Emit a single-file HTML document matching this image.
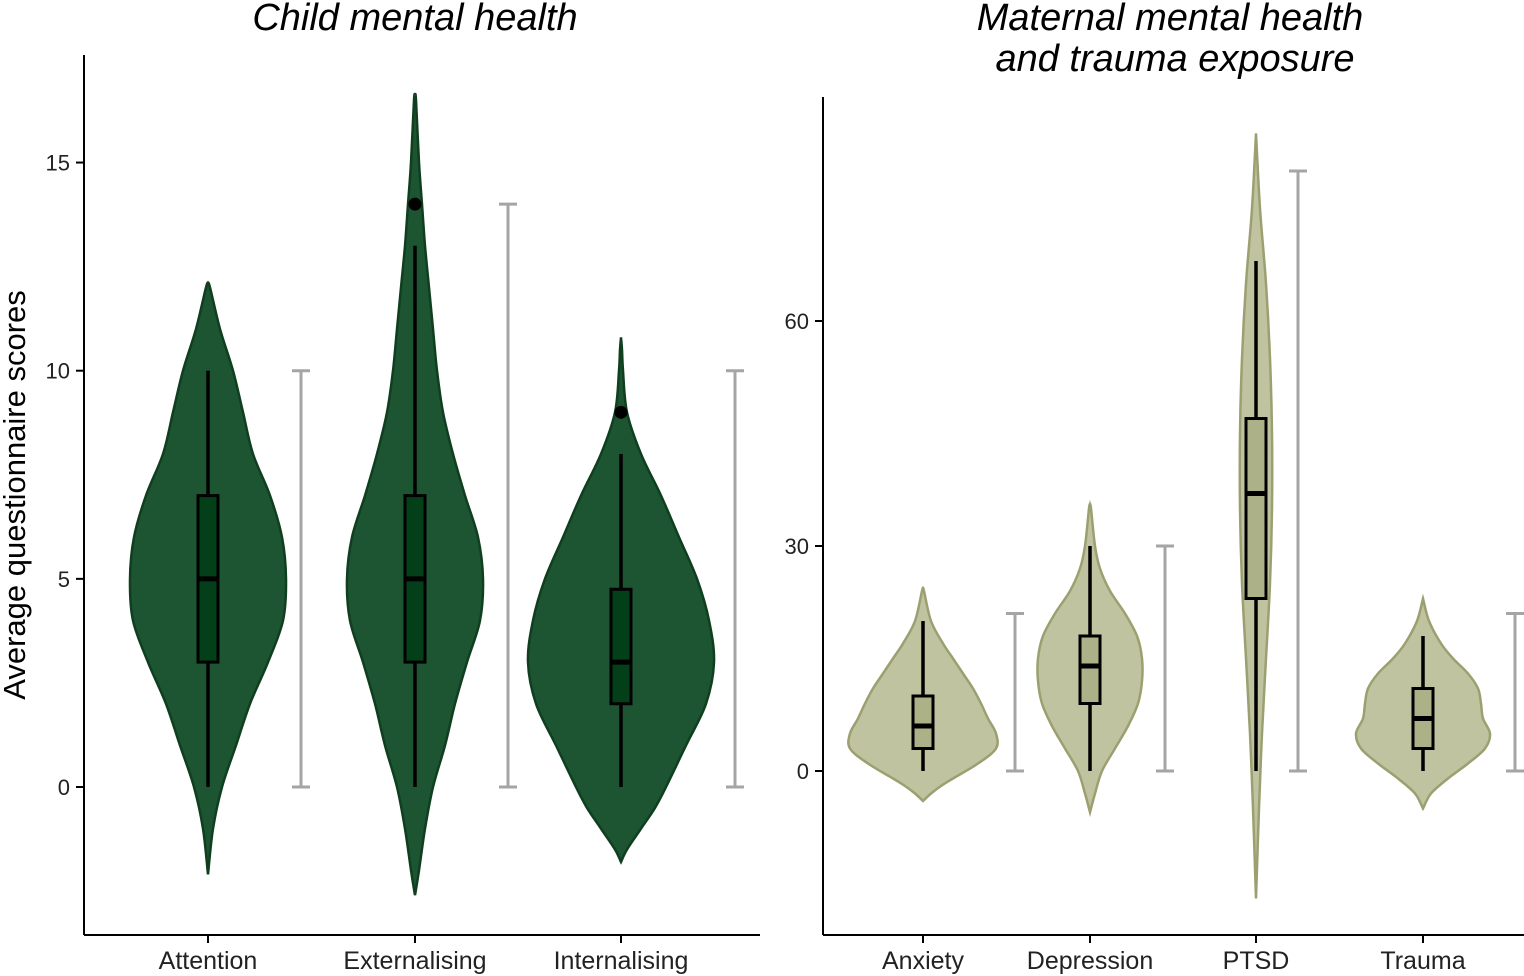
<!DOCTYPE html>
<html><head><meta charset="utf-8"><style>
body{margin:0;background:#fff}
svg{display:block;font-family:"Liberation Sans",Arial,sans-serif}
</style></head><body>
<svg id="chart" width="1524" height="976" viewBox="0 0 1524 976">
<text x="415" y="30" font-size="38" font-style="italic" text-anchor="middle">Child mental health</text>
<text x="1170" y="30" font-size="38" font-style="italic" text-anchor="middle">Maternal mental health</text>
<text x="1175" y="71" font-size="38" font-style="italic" text-anchor="middle">and trauma exposure</text>
<text transform="translate(25,495) rotate(-90)" font-size="31" text-anchor="middle">Average questionnaire scores</text>
<g id="left"></g>
<g id="right"></g>
</svg>
<script>
// Left panel data
const leftCats = ["Attention","Externalising","Internalising"];
const leftTicks = [0,5,10,15];
const leftViolins = [
 [[-2.1,0],[-1,5],[0,14],[1,28],[2,42],[3,60],[4,75],[5,78],[6,74],[7,62],[8,45],[9,35],[10,25],[11,12],[12,2],[12.1,0]],
 [[-2.6,0],[-2,4],[-1,10],[0,18],[1,30],[2,40],[3,52],[4,65],[5,68],[6,63],[7,50],[8,38],[9,28],[10,22],[11,18],[12,14],[13,10],[14,7],[15,4],[16.5,1],[16.6,0]],
 [[-1.8,0],[-1.5,6],[-1,20],[-0.5,34],[0,45],[1,65],[2,85],[3,93],[4,88],[5,76],[6,58],[7,40],[8,20],[9,6],[10,2],[10.5,1],[10.8,0]]
];
const leftBoxes = [[0,3,5,7,10],[0,3,5,7,13],[0,2,3,4.75,8]];
const leftOutliers = [[],[14],[9]];
const leftRanges = [[0,10],[0,14],[0,10]];
// Right panel data
const rightCats = ["Anxiety","Depression","PTSD","Trauma"];
const rightTicks = [0,30,60];
const rightViolins = [
 [[-4,0],[-3,8],[-2,18],[-1,30],[1,55],[3,73],[5,73],[7,65],[9,58],[11,50],[13,40],[15,30],[17,20],[20,8],[24,1],[24.3,0]],
 [[-5.5,0],[-3,5],[0,12],[3,25],[6,38],[9,48],[12,52],[15,52],[18,47],[21,35],[24,20],[27,10],[30,5],[35,1],[35.5,0]],
 [[-17,0],[-5,3],[5,6],[15,10],[25,14],[35,16],[45,16],[55,14],[65,10],[75,4],[85,0]],
 [[-5,0],[-3,8],[-1,25],[1,45],[3,62],[5,67],[7,60],[9,58],[11,55],[13,45],[15,30],[17,18],[20,6],[23,0]]
];
const rightBoxes = [[0,3,6,10,20],[0,9,14,18,30],[0,23,37,47,68],[0,3,7,11,18]];
const rightOutliers = [[],[],[],[]];
const rightRanges = [[0,21],[0,30],[0,80],[0,21]];

const NS="http://www.w3.org/2000/svg";
function mk(p,t,a){const e=document.createElementNS(NS,t);for(const k in a)e.setAttribute(k,a[k]);p.appendChild(e);return e;}
function smooth(pts){let d="M"+pts[0][0]+","+pts[0][1];for(let i=0;i<pts.length-1;i++){const p0=pts[Math.max(0,i-1)],p1=pts[i],p2=pts[i+1],p3=pts[Math.min(pts.length-1,i+2)];
const c1=[p1[0]+(p2[0]-p0[0])/6,p1[1]+(p2[1]-p0[1])/6],c2=[p2[0]-(p3[0]-p1[0])/6,p2[1]-(p3[1]-p1[1])/6];d+=" C"+c1+" "+c2+" "+p2;}return d;}
function panel(g,o){
 const y=v=>o.y0+(v)*o.k;
 mk(g,"line",{x1:o.ax,y1:o.top,x2:o.ax,y2:935,stroke:"#000","stroke-width":2});
 mk(g,"line",{x1:o.ax,y1:935,x2:o.right,y2:935,stroke:"#000","stroke-width":2});
 o.ticks.forEach(t=>{const tk=mk(g,"line",{x1:o.ax-8,y1:y(t),x2:o.ax,y2:y(t),stroke:"#000","stroke-width":2});
  
  const tl=mk(g,"text",{x:o.ax-14,y:y(t)+8,"font-size":22,"text-anchor":"end",fill:"#222"});tl.textContent=t;
  });
 o.cats.forEach((c,i)=>{const cx=o.cx[i];
  mk(g,"line",{x1:cx,y1:935,x2:cx,y2:943,stroke:"#000","stroke-width":2});
  const lab=mk(g,"text",{x:cx,y:969,"font-size":25,"text-anchor":"middle",fill:"#222"});lab.textContent=c;
  
  const v=o.violins[i];const R=v.map(p=>[cx+p[1],y(p[0])]),L=v.slice().reverse().map(p=>[cx-p[1],y(p[0])]);
  const path=mk(g,"path",{d:smooth(R)+" L"+L[0]+smooth(L).slice(1).replace(/^[^C]*/,"")+"Z",fill:o.fill,stroke:o.stroke,"stroke-width":2.5});
  
  const b=o.boxes[i];
  mk(g,"line",{x1:cx,y1:y(b[0]),x2:cx,y2:y(b[4]),stroke:"#000","stroke-width":3.5});
  const box=mk(g,"rect",{x:cx-10,y:y(b[3]),width:20,height:y(b[1])-y(b[3]),fill:o.boxFill,stroke:"#000","stroke-width":3});
  
  mk(g,"line",{x1:cx-10,y1:y(b[2]),x2:cx+10,y2:y(b[2]),stroke:"#000","stroke-width":5});
  o.outliers[i].forEach(ov=>{const pt=mk(g,"circle",{cx:cx,cy:y(ov),r:6.5,fill:"#000"});
   });
  const r=o.ranges[i],rx=o.rx[i];
  const rg=mk(g,"path",{d:`M${rx},${y(r[0])}V${y(r[1])}M${rx-9},${y(r[0])}H${rx+9}M${rx-9},${y(r[1])}H${rx+9}`,stroke:"#a5a5a5","stroke-width":3,fill:"none"});
  
 });
}
panel(document.getElementById("left"),{ax:84,top:55,right:760,y0:787,k:-41.63,ticks:leftTicks,cats:leftCats,cx:[208,415,621],rx:[301,508,735],
 violins:leftViolins,boxes:leftBoxes,outliers:leftOutliers,ranges:leftRanges,fill:"#1d5532",stroke:"#0f3f1f",boxFill:"#034019"});
panel(document.getElementById("right"),{ax:823,top:97,right:1524,y0:771,k:-7.5,ticks:rightTicks,cats:rightCats,cx:[923,1090,1256,1423],rx:[1015,1165,1298,1515],
 violins:rightViolins,boxes:rightBoxes,outliers:rightOutliers,ranges:rightRanges,fill:"#bfc3a0",stroke:"#9ca070",boxFill:"#adb187"});
</script>
</body></html>
